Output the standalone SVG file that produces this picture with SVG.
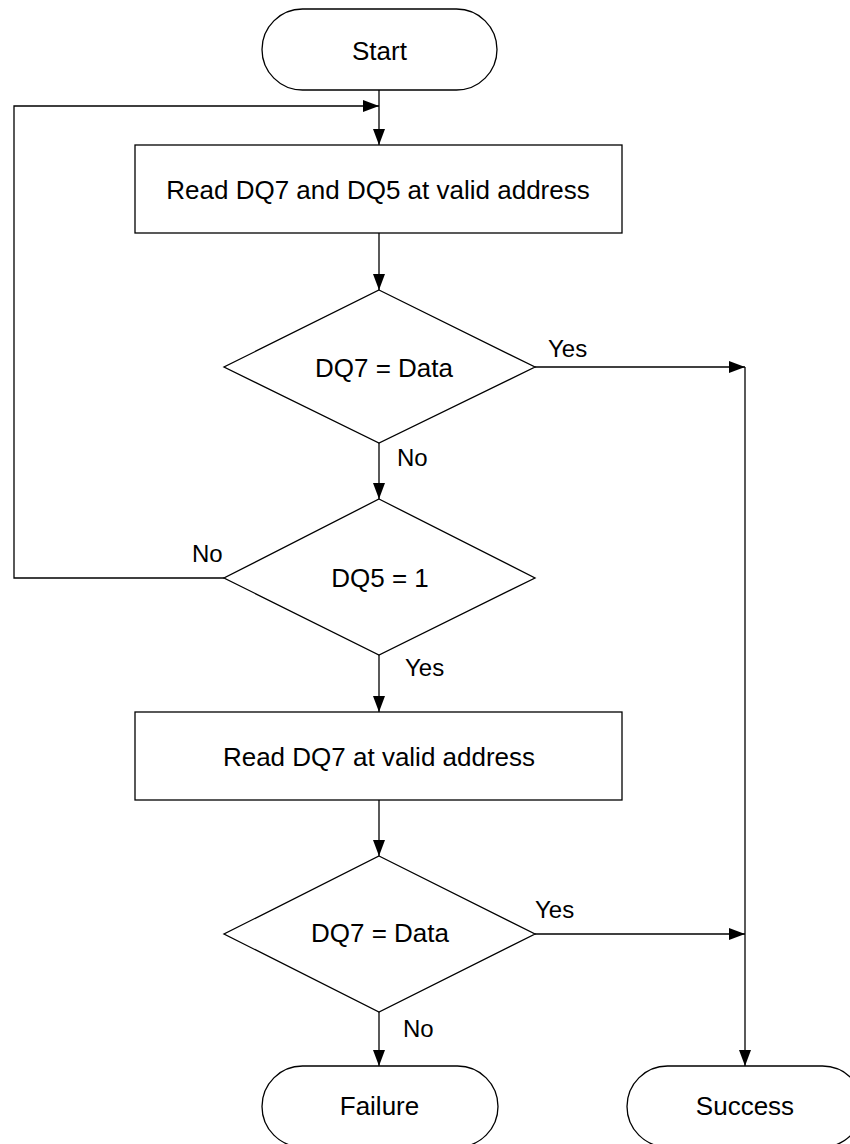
<svg xmlns="http://www.w3.org/2000/svg" width="850" height="1144" viewBox="0 0 850 1144">
<style>
.shape{fill:#fff;stroke:#000;stroke-width:1.3}
.conn{fill:none;stroke:#000;stroke-width:1.3}
text{font-family:"Liberation Sans",Arial,sans-serif;font-size:26px;fill:#000}
.lbl{font-size:24px}
.c{text-anchor:middle}
</style>
<defs>
<marker id="arr" markerUnits="userSpaceOnUse" markerWidth="17" markerHeight="13" refX="16" refY="6" orient="auto">
<path d="M0,0 L16,6 L0,12 Z" fill="#000"/>
</marker>
</defs>
<rect width="850" height="1144" fill="#fff"/>
<g id="connectors">
<path class="conn" d="M379,90 V145" marker-end="url(#arr)"/>
<path class="conn" d="M224,578 H14 V106 H379" marker-end="url(#arr)"/>
<path class="conn" d="M379,233 V290" marker-end="url(#arr)"/>
<path class="conn" d="M535,367 H745" marker-end="url(#arr)"/>
<path class="conn" d="M745,367 V1066" marker-end="url(#arr)"/>
<path class="conn" d="M379,443 V499" marker-end="url(#arr)"/>
<path class="conn" d="M379,655 V712" marker-end="url(#arr)"/>
<path class="conn" d="M379,800 V856" marker-end="url(#arr)"/>
<path class="conn" d="M535,934 H745" marker-end="url(#arr)"/>
<path class="conn" d="M379,1012 V1066" marker-end="url(#arr)"/>
<text class="lbl" x="548" y="357">Yes</text>
<text class="lbl" x="397" y="466">No</text>
<text class="lbl" x="192" y="562">No</text>
<text class="lbl" x="405" y="676">Yes</text>
<text class="lbl" x="535" y="918">Yes</text>
<text class="lbl" x="403" y="1037">No</text>
</g>
<g id="start">
<rect class="shape" x="262" y="9" width="235" height="81" rx="40.5"/>
<text class="c" x="379.5" y="60">Start</text>
</g>
<g id="read1">
<rect class="shape" x="135" y="145" width="487" height="88"/>
<text class="c" x="378" y="199">Read DQ7 and DQ5 at valid address</text>
</g>
<g id="dec1">
<polygon class="shape" points="379,290 535,367 379,443 224,367"/>
<text class="c" x="384" y="377">DQ7 = Data</text>
</g>
<g id="dec2">
<polygon class="shape" points="379,499 535,578 379,655 224,578"/>
<text class="c" x="380" y="587">DQ5 = 1</text>
</g>
<g id="read2">
<rect class="shape" x="135" y="712" width="487" height="88"/>
<text class="c" x="379" y="766">Read DQ7 at valid address</text>
</g>
<g id="dec3">
<polygon class="shape" points="379,856 535,934 379,1012 224,934"/>
<text class="c" x="380" y="942">DQ7 = Data</text>
</g>
<g id="failure">
<rect class="shape" x="262" y="1066" width="236" height="81" rx="40.5"/>
<text class="c" x="379.5" y="1115">Failure</text>
</g>
<g id="success">
<rect class="shape" x="627" y="1066" width="236" height="81" rx="40.5"/>
<text class="c" x="745" y="1115">Success</text>
</g>
</svg>
